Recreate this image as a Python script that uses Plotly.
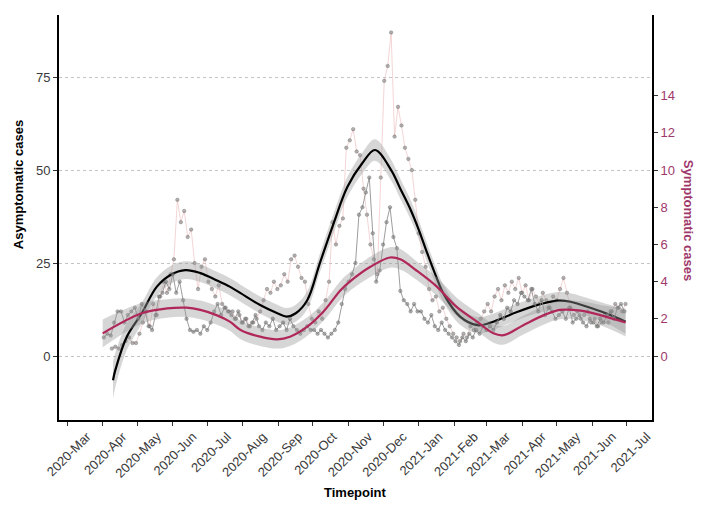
import plotly.graph_objects as go
import pandas as pd

# ---------------- data ----------------
# Asymptomatic daily cases (left axis), sampled every 3 days from 2020-04-09
asym_start = "2020-04-09"
asym_vals = [
    2, 2.5, 2, 3, 4, 5, 3.5, 3.5,                     # Apr 2020
    6, 9, 12, 8, 14, 11, 16, 20, 17, 22,              # May
    26, 42, 36, 39, 32, 34, 25, 18, 24, 26,           # Jun
    20, 18, 16, 19, 14, 13, 12, 12, 10, 11,           # Jul
    9, 10, 8, 9, 10, 12, 15, 18, 17, 20, 18,          # Aug
    19, 22, 20, 26, 27, 24, 21, 20, 14, 10,           # Sep
    9, 12, 10, 15, 20, 36, 30, 35, 37, 56,            # Oct
    58, 61, 55, 54, 45, 38, 30, 26, 22, 48,           # Nov
    74, 78, 87, 59, 67, 62, 56, 53, 50, 42,           # Dec
    33, 28, 24, 18, 15, 16, 12, 13, 10, 8, 6,         # Jan 2021
    5, 4, 6, 5, 8, 7, 9, 10, 12,                      # Feb
    14, 12, 16, 18, 15, 19, 17, 20, 18, 21,           # Mar
    17, 19, 15, 18, 16, 14, 17, 15, 13, 16,           # Apr
    15, 18, 21, 17, 13, 11, 12, 10, 11, 12, 9,        # May
    10, 8, 9, 11, 9, 12, 14, 13, 12, 14,              # Jun
]

# Symptomatic daily cases (right axis), sampled every 3 days from 2020-04-02
sym_start = "2020-04-02"
sym_vals = [
    1.0, 1.2, 1.1, 1.8, 2.4, 2.4, 1.8, 2.2, 2.4, 2.6,        # Apr 2020
    2.0, 2.8, 2.4, 1.6, 1.4, 2.2, 3.2, 3.4, 4.0, 3.6,        # May
    4.4, 3.4, 4.0, 3.0, 2.0, 1.4, 1.3, 1.4, 1.2, 1.6,        # Jun
    1.4, 1.8, 2.4, 2.8, 2.2, 2.6, 2.4, 2.2, 2.0, 2.4, 1.8,   # Jul
    2.0, 1.6, 1.8, 2.2, 1.6, 1.4, 1.8, 1.6, 2.0, 1.4,        # Aug
    1.6, 1.8, 1.4, 2.0, 1.6, 1.4, 1.2, 1.4, 1.6, 1.4,        # Sep
    1.4, 1.2, 1.4, 1.2, 1.0, 1.2, 1.4, 1.8, 2.8, 3.6,        # Oct
    4.0, 4.4, 5.0, 7.6, 8.0, 8.8, 9.6, 6.6, 4.0, 4.6,        # Nov
    6.0, 7.2, 8.0, 6.4, 5.8, 3.5, 3.0, 2.8, 2.4, 2.8, 2.4,   # Dec
    2.4, 2.0, 1.8, 2.2, 1.6, 1.4, 1.8, 1.4, 1.2, 1.0,        # Jan 2021
    0.8, 0.6, 1.0, 0.8, 1.2, 1.0, 1.4, 1.2, 1.6,             # Feb
    1.4, 1.6, 1.4, 1.8, 2.2, 2.0, 2.6, 2.4, 3.0, 2.8, 3.4,   # Mar
    3.2, 3.0, 3.6, 2.8, 2.4, 3.0, 2.2, 2.6, 2.4, 2.0,        # Apr
    2.2, 2.4, 2.0, 2.6, 1.8, 2.0, 2.2, 1.8, 1.6, 2.0,        # May
    1.8, 1.6, 2.0, 1.8, 2.2, 2.4, 2.0, 2.6, 2.8, 2.4,        # Jun
]

# Smoothed trend of asymptomatic cases (left axis) and its CI half-width
asym_fit_dates = ["2020-04-10", "2020-04-12", "2020-04-22", "2020-05-05", "2020-05-18",
                  "2020-05-30", "2020-06-12", "2020-06-25", "2020-07-09", "2020-07-21",
                  "2020-07-30", "2020-08-16", "2020-08-31", "2020-09-08", "2020-09-16",
                  "2020-09-26", "2020-10-07", "2020-10-19", "2020-10-31", "2020-11-13",
                  "2020-11-24", "2020-12-08", "2020-12-16", "2020-12-24", "2021-01-01",
                  "2021-01-08", "2021-01-16", "2021-01-23", "2021-02-06", "2021-02-21",
                  "2021-03-04", "2021-03-28", "2021-04-14", "2021-05-02", "2021-05-13",
                  "2021-05-31", "2021-06-17", "2021-06-30"]
asym_fit = [-6.5, -3.8, 5.2, 11.5, 18.6,
            21.8, 23.1, 22.3, 20.4, 18.6,
            16.9, 13.7, 11.5, 10.6, 11.5,
            15.0, 25.0, 35.7, 45.5, 51.9,
            55.4, 50.0, 45.0, 40.0, 34.0,
            28.0, 21.5, 16.5, 10.6, 8.3,
            8.9, 11.9, 13.7, 14.9, 14.6,
            12.9, 11.0, 9.2]
asym_se = [5.0, 4.6, 3.6, 2.8, 2.5,
           2.4, 2.4, 2.4, 2.3, 2.3,
           2.3, 2.3, 2.3, 2.3, 2.3,
           2.4, 2.5, 2.6, 2.7, 2.8,
           2.9, 2.8, 2.7, 2.6, 2.5,
           2.5, 2.4, 2.3, 2.2, 2.2,
           2.2, 2.2, 2.2, 2.3, 2.3,
           2.4, 2.7, 3.2]

# Smoothed trend of symptomatic cases (right axis) and its CI half-width
sym_fit_dates = ["2020-04-01", "2020-05-05", "2020-05-27", "2020-06-13", "2020-06-25",
                 "2020-07-09", "2020-07-21", "2020-07-30", "2020-08-16", "2020-08-31",
                 "2020-09-11", "2020-09-26", "2020-10-10", "2020-10-25", "2020-11-02",
                 "2020-11-20", "2020-12-07", "2020-12-16", "2020-12-30", "2021-01-17",
                 "2021-02-03", "2021-02-21", "2021-03-07", "2021-03-16", "2021-04-02",
                 "2021-04-20", "2021-05-04", "2021-05-22", "2021-06-08", "2021-06-30"]
sym_fit = [1.22, 2.3, 2.56, 2.6, 2.48,
           2.2, 1.84, 1.4, 1.04, 0.9,
           1.04, 1.58, 2.38, 3.54, 4.0,
           4.8, 5.3, 5.2, 4.6, 3.72,
           2.64, 1.84, 1.22, 1.12, 1.66,
           2.2, 2.48, 2.44, 2.2, 1.8]
sym_se = [0.75, 0.55, 0.5, 0.5, 0.5,
          0.5, 0.5, 0.5, 0.5, 0.5,
          0.5, 0.5, 0.5, 0.5, 0.5,
          0.55, 0.55, 0.55, 0.5, 0.5,
          0.5, 0.5, 0.5, 0.5, 0.5,
          0.5, 0.5, 0.5, 0.55, 0.75]

x_ticks_start = "2020-03-01"
left_ticks = [0, 25, 50, 75]
right_ticks = [0, 2, 4, 6, 8, 10, 12, 14]

# ---------------- figure ----------------
asym_dates = pd.date_range(asym_start, periods=len(asym_vals), freq="3D")
sym_dates = pd.date_range(sym_start, periods=len(sym_vals), freq="3D")

BAND = "rgba(153,153,153,0.4)"
CRIMSON = "#b0285a"
PURPLE = "#a0396b"
FONT = "Liberation Sans, Arial, sans-serif"

fig = go.Figure()

# asymptomatic raw series
fig.add_trace(go.Scatter(
    x=asym_dates, y=asym_vals, mode="lines+markers", yaxis="y",
    line=dict(color="rgba(236,180,180,0.7)", width=0.8),
    marker=dict(size=3.5, color="rgba(120,120,120,0.55)",
                line=dict(width=0.6, color="rgba(90,90,90,0.6)")),
    hoverinfo="skip"))

# asymptomatic smooth band + line
asym_lo = [v - s for v, s in zip(asym_fit, asym_se)]
asym_hi = [v + s for v, s in zip(asym_fit, asym_se)]
fig.add_trace(go.Scatter(x=asym_fit_dates, y=asym_lo, mode="lines", yaxis="y",
                         line=dict(width=0, shape="spline", color=BAND), hoverinfo="skip"))
fig.add_trace(go.Scatter(x=asym_fit_dates, y=asym_hi, mode="lines", yaxis="y",
                         line=dict(width=0, shape="spline", color=BAND),
                         fill="tonexty", fillcolor=BAND, hoverinfo="skip"))
fig.add_trace(go.Scatter(x=asym_fit_dates, y=asym_fit, mode="lines", yaxis="y",
                         line=dict(color="black", width=2.2, shape="spline"), hoverinfo="skip"))

# symptomatic raw series
fig.add_trace(go.Scatter(
    x=sym_dates, y=sym_vals, mode="lines+markers", yaxis="y2",
    line=dict(color="rgba(140,140,140,0.85)", width=1),
    marker=dict(size=3.5, color="rgba(120,120,120,0.55)",
                line=dict(width=0.6, color="rgba(90,90,90,0.6)")),
    hoverinfo="skip"))

# symptomatic smooth band + line
sym_lo = [v - s for v, s in zip(sym_fit, sym_se)]
sym_hi = [v + s for v, s in zip(sym_fit, sym_se)]
fig.add_trace(go.Scatter(x=sym_fit_dates, y=sym_lo, mode="lines", yaxis="y2",
                         line=dict(width=0, shape="spline", color=BAND), hoverinfo="skip"))
fig.add_trace(go.Scatter(x=sym_fit_dates, y=sym_hi, mode="lines", yaxis="y2",
                         line=dict(width=0, shape="spline", color=BAND),
                         fill="tonexty", fillcolor=BAND, hoverinfo="skip"))
fig.add_trace(go.Scatter(x=sym_fit_dates, y=sym_fit, mode="lines", yaxis="y2",
                         line=dict(color=CRIMSON, width=2.2, shape="spline"), hoverinfo="skip"))

# page body has an 8px default margin, so the figure is 8px smaller and shifted margins
fig.update_layout(
    width=699, height=509,
    margin=dict(l=51, r=55, t=7, b=97, autoexpand=False),
    plot_bgcolor="white", paper_bgcolor="white",
    showlegend=False,
    font=dict(family=FONT, size=12, color="#4d4d4d"),
    xaxis=dict(type="date", range=["2020-02-23", "2021-07-23"], automargin=False,
               tick0=x_ticks_start, dtick="M1", tickformat="%Y-%b", tickangle=-45,
               ticklabelshift=20, ticklabelstandoff=-2,
               showgrid=False, zeroline=False, showline=True, linecolor="black", linewidth=2,
               ticks="outside", ticklen=4, tickcolor="#333", tickwidth=1,
               tickfont=dict(size=13, color="#3a3a3a", family=FONT)),
    yaxis=dict(range=[-17.2, 91.7], tickvals=left_ticks, automargin=False,
               showgrid=True, gridcolor="#c4c4c4", griddash="dot", gridwidth=1,
               zeroline=False, showline=True, linecolor="black", linewidth=2,
               ticks="outside", ticklen=4, tickcolor="#333",
               tickfont=dict(size=13, color="#3a3a3a", family=FONT)),
    yaxis2=dict(overlaying="y", side="right", anchor="x", range=[-3.44, 18.34],
                automargin=False,
                tickvals=right_ticks, showgrid=False, zeroline=False,
                showline=True, linecolor="black", linewidth=2,
                ticks="outside", ticklen=4, tickcolor="#333",
                tickfont=dict(size=13, color=PURPLE, family=FONT)),
    annotations=[
        dict(text="<b>Timepoint</b>", xref="paper", yref="paper", x=0.5, y=-0.178,
             xanchor="center", yanchor="middle", showarrow=False,
             font=dict(size=13, color="black", family=FONT)),
        dict(text="<b>Asymptomatic cases</b>", xref="paper", yref="paper", x=-0.069, y=0.58,
             xanchor="center", yanchor="middle", showarrow=False, textangle=-90,
             font=dict(size=13, color="black", family=FONT)),
        dict(text="<b>Symptomatic cases</b>", xref="paper", yref="paper", x=1.061, y=0.494,
             xanchor="center", yanchor="middle", showarrow=False, textangle=90,
             font=dict(size=13, color=PURPLE, family=FONT)),
    ],
)

fig.write_html("out.html")
